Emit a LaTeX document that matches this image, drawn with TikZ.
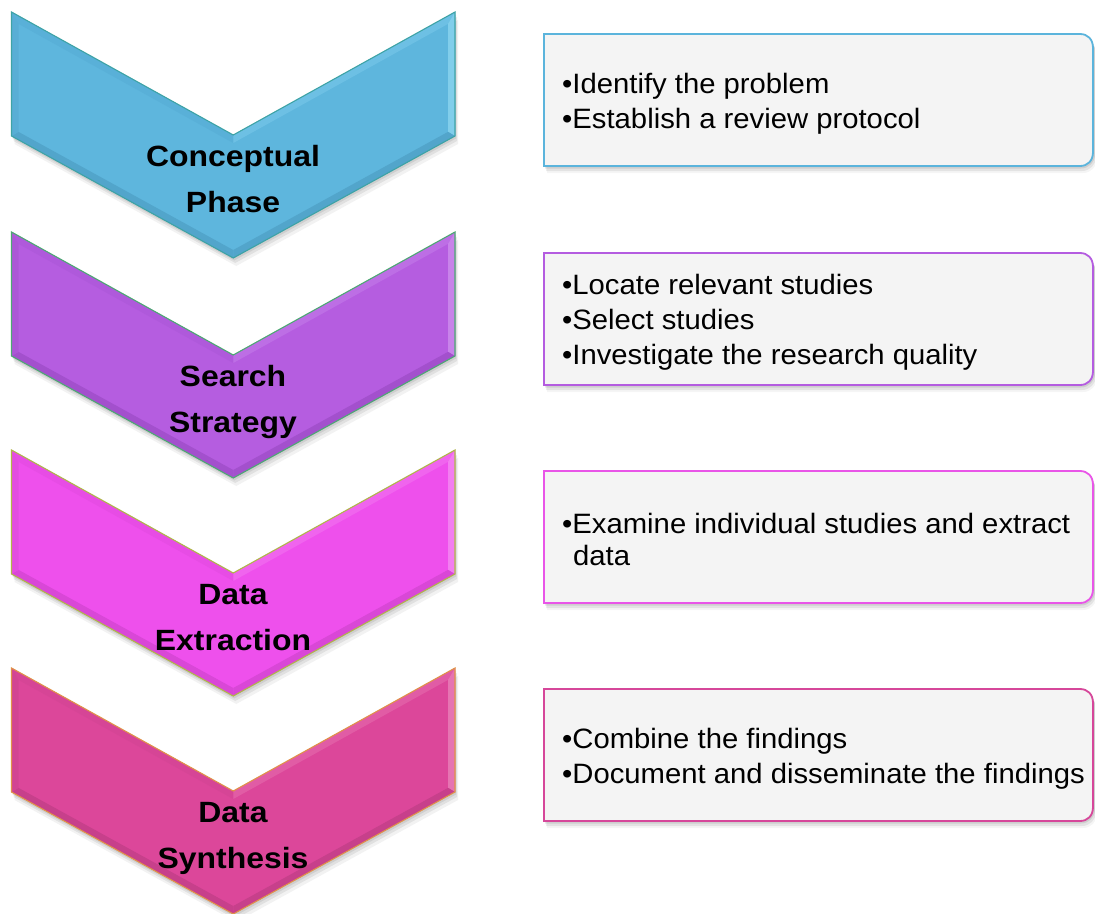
\documentclass[tikz,border=0pt]{standalone}
\usepackage{fontspec}
\setmainfont{Liberation Sans}[FakeStretch=1.045]
\newfontfamily\chevfont{Liberation Sans}[FakeStretch=1.09]
\definecolor{boxfill}{HTML}{F4F4F4}
% chevron 1 (blue)
\definecolor{aMain}{HTML}{5EB6DD}\definecolor{aL}{HTML}{80CCEC}\definecolor{aLL}{HTML}{9DE2F6}
\definecolor{aD}{HTML}{4897BD}\definecolor{aLf}{HTML}{55A9D0}\definecolor{aT}{HTML}{57ADD6}\definecolor{aLine}{HTML}{3EA3A6}
% chevron 2 (purple)
\definecolor{bMain}{HTML}{B55DE0}\definecolor{bL}{HTML}{C683EB}\definecolor{bLL}{HTML}{D7A2F3}
\definecolor{bD}{HTML}{9446BD}\definecolor{bLf}{HTML}{A653D0}\definecolor{bT}{HTML}{AD57D9}\definecolor{bLine}{HTML}{4EA874}
% chevron 3 (magenta)
\definecolor{cMain}{HTML}{EE50EC}\definecolor{cL}{HTML}{F37DF1}\definecolor{cLL}{HTML}{F7A2F5}
\definecolor{cD}{HTML}{C83FC6}\definecolor{cLf}{HTML}{DC4ADA}\definecolor{cT}{HTML}{E44BE2}\definecolor{cLine}{HTML}{B0B64A}
% chevron 4 (pink)
\definecolor{dMain}{HTML}{DC479A}\definecolor{dL}{HTML}{E776B3}\definecolor{dLL}{HTML}{EE98C6}
\definecolor{dD}{HTML}{B63A7F}\definecolor{dLf}{HTML}{CC428E}\definecolor{dT}{HTML}{D34494}\definecolor{dLine}{HTML}{E0924A}
% softened bevel tones
\colorlet{aLight}{aL!45!aMain}\colorlet{aLighter}{aLL!55!aMain}\colorlet{aDark}{aD!55!aMain}\colorlet{aLeft}{aLf!60!aMain}\colorlet{aTL}{aT!70!aMain}
\colorlet{bLight}{bL!45!bMain}\colorlet{bLighter}{bLL!55!bMain}\colorlet{bDark}{bD!55!bMain}\colorlet{bLeft}{bLf!60!bMain}\colorlet{bTL}{bT!70!bMain}
\colorlet{cLight}{cL!45!cMain}\colorlet{cLighter}{cLL!55!cMain}\colorlet{cDark}{cD!55!cMain}\colorlet{cLeft}{cLf!60!cMain}\colorlet{cTL}{cT!70!cMain}
\colorlet{dLight}{dL!45!dMain}\colorlet{dLighter}{dLL!55!dMain}\colorlet{dDark}{dD!55!dMain}\colorlet{dLeft}{dLf!60!dMain}\colorlet{dTL}{dT!70!dMain}
% box borders
\definecolor{bxA}{HTML}{5BB4DC}\definecolor{bxB}{HTML}{B45CE0}\definecolor{bxC}{HTML}{E955E8}\definecolor{bxD}{HTML}{D6479A}

% #1 top y, #2 main, #3 light, #4 lighter, #5 dark, #6 left, #7 top-left, #8 outline
\newcommand\mychev[8]{%
\begin{scope}[shift={(11.5,#1)}]
  \fill[black,opacity=0.05] (3,8) -- (224.75,131) -- (446.5,8) -- (446.5,132) -- (224.75,254) -- (3,132) -- cycle;
  \fill[black,opacity=0.07] (2,5) -- (223.75,128) -- (445.5,5) -- (445.5,129) -- (223.75,251) -- (2,129) -- cycle;
  \fill[black,opacity=0.08] (1,2.5) -- (222.75,125.5) -- (444.5,2.5) -- (444.5,126.5) -- (222.75,248.5) -- (1,126.5) -- cycle;
  \fill[#2] (0,0) -- (221.75,123) -- (443.5,0) -- (443.5,124) -- (221.75,246) -- (0,124) -- cycle;
  \fill[#7] (0,0) -- (221.75,123) -- (221.75,131) -- (7,11.9) -- cycle;
  \fill[#3] (221.75,123) -- (443.5,0) -- (436.5,11.9) -- (221.75,131) -- cycle;
  \fill[#4] (443.5,0) -- (443.5,124) -- (436.5,119.85) -- (436.5,11.9) -- cycle;
  \fill[#5] (443.5,124) -- (221.75,246) -- (221.75,238) -- (436.5,119.85) -- cycle;
  \fill[#5] (221.75,246) -- (0,124) -- (7,119.85) -- (221.75,238) -- cycle;
  \fill[#6] (0,124) -- (0,0) -- (7,11.9) -- (7,119.85) -- cycle;
  \draw[#8, line width=1.1pt, line join=miter] (0,0) -- (221.75,123) -- (443.5,0) -- (443.5,124) -- (221.75,246) -- (0,124) -- cycle;
\end{scope}}

% #1 top y, #2 border colour
\newcommand\mybox[2]{%
\begin{scope}[shift={(0,#1)}]
  \fill[black,opacity=0.04] (547,7) -- (1083,7) .. controls (1090.7,7) and (1097,13.3) .. (1097,21) -- (1097,125) .. controls (1097,132.7) and (1090.7,139) .. (1083,139) -- (547,139) -- cycle;
  \fill[black,opacity=0.07] (546,5) -- (1082,5) .. controls (1089.7,5) and (1096,11.3) .. (1096,19) -- (1096,123) .. controls (1096,130.7) and (1089.7,137) .. (1082,137) -- (546,137) -- cycle;
  \fill[black,opacity=0.09] (545,2.5) -- (1081,2.5) .. controls (1088.7,2.5) and (1095,8.8) .. (1095,16.5) -- (1095,120.5) .. controls (1095,128.2) and (1088.7,134.5) .. (1081,134.5) -- (545,134.5) -- cycle;
  \filldraw[fill=boxfill, draw=#2, line width=1.8pt, line join=miter] (544,0) -- (1080,0) .. controls (1087.7,0) and (1093,5.3) .. (1093,14) -- (1093,118) .. controls (1093,126.7) and (1087.7,132) .. (1080,132) -- (544,132) -- cycle;
\end{scope}}

\tikzset{
  btext/.style={anchor=base west, inner sep=0pt, font=\fontsize{28}{32}\selectfont},
  ctext/.style={anchor=base, inner sep=0pt, font=\chevfont\bfseries\fontsize{29.3}{34}\selectfont}
}

\begin{document}
\begin{tikzpicture}[x=1pt,y=-1pt]
  \fill[white] (0,0) rectangle (1095,913);
  \useasboundingbox (0,0) rectangle (1095,913);

  % chevrons
  \mychev{12}{aMain}{aLight}{aLighter}{aDark}{aLeft}{aTL}{aLine}
  \mychev{232}{bMain}{bLight}{bLighter}{bDark}{bLeft}{bTL}{bLine}
  \mychev{450}{cMain}{cLight}{cLighter}{cDark}{cLeft}{cTL}{cLine}
  \mychev{668}{dMain}{dLight}{dLighter}{dDark}{dLeft}{dTL}{dLine}

  \node[ctext] (c1a) at (233,166) {Conceptual};
  \node[ctext] (c1b) at (233,212) {Phase};
  \node[ctext] (c2a) at (233,386) {Search};
  \node[ctext] (c2b) at (233,432) {Strategy};
  \node[ctext] (c3a) at (233,604) {Data};
  \node[ctext] (c3b) at (233,650) {Extraction};
  \node[ctext] (c4a) at (233,822) {Data};
  \node[ctext] (c4b) at (233,868) {Synthesis};

  % boxes
  \mybox{34}{bxA}
  \mybox{253}{bxB}
  \mybox{471}{bxC}
  \mybox{689}{bxD}

  \node[btext] (t1a) at (562,93.3) {•Identify the problem};
  \node[btext] (t1b) at (562,128.3) {•Establish a review protocol};
  \node[btext] (t2a) at (562,294) {•Locate relevant studies};
  \node[btext] (t2b) at (562,329) {•Select studies};
  \node[btext] (t2c) at (562,364) {•Investigate the research quality};
  \node[btext] (t3a) at (562,533.8) {•Examine individual studies and extract};
  \node[btext] (t3b) at (573,565.4) {data};
  \node[btext] (t4a) at (562,748.3) {•Combine the findings};
  \node[btext] (t4b) at (562,783.3) {•Document and disseminate the findings};
\end{tikzpicture}
\end{document}
